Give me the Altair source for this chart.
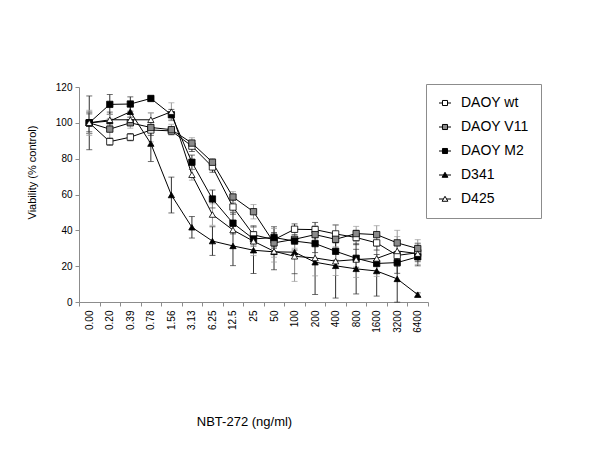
import altair as alt
import pandas as pd

concentrations = ["0.00", "0.20", "0.39", "0.78", "1.56", "3.13", "6.25", "12.5", "25",
                  "50", "100", "200", "400", "800", "1600", "3200", "6400"]
series_names = ["DAOY wt", "DAOY V11", "DAOY M2", "D341", "D425"]

daoy_wt = [100, 89.5, 92, 96, 95.5, 87, 75.4, 53, 37.5, 34.8, 40.6, 40.4, 38, 36, 33, 26, 27.5]
daoy_wt_err = [6, 2, 2, 3, 2, 3, 3, 4, 5, 4, 3, 4, 5, 4, 4, 6, 5]
daoy_v11 = [100, 96.5, 100, 97.4, 96.2, 88.7, 78, 58.6, 50.4, 33, 35, 37.6, 35, 38.2, 37.6, 33, 29.8]
daoy_v11_err = [6, 6, 3, 8, 3, 3, 2, 3, 4, 8, 5, 5, 8, 4, 5, 7, 5]
daoy_m2 = [100, 110.3, 110.5, 113.6, 104.5, 78, 57.5, 44, 35.2, 36, 34, 32.6, 28.3, 24.4, 21.5, 22, 25.2]
daoy_m2_err = [5, 5.5, 4, 1.5, 3, 4, 5, 6, 4, 6, 5, 5, 5, 5, 5, 6, 5]
d341 = [100, 101, 106.2, 88.4, 59.7, 41.7, 34, 31.3, 28.9, 28, 27.8, 22.2, 20.2, 18.5, 17.3, 12.9, 4.1]
d341_err = [15, 5, 3, 10, 10, 6, 8, 11, 13, 10, 12, 18, 18, 14, 14, 13, 1]
d425 = [100, 101.7, 101.7, 101.7, 106.2, 71, 48.8, 40.2, 33.9, 28.3, 25.5, 24.6, 22.8, 23.7, 24.3, 28.5, 27]
d425_err = [7, 3, 3, 4, 5, 3, 6, 10, 8, 6, 14, 10, 8, 10, 10, 8, 6]

values = [daoy_wt, daoy_v11, daoy_m2, d341, d425]
errors = [daoy_wt_err, daoy_v11_err, daoy_m2_err, d341_err, d425_err]

rows = []
for s, vals, errs in zip(series_names, values, errors):
    for i, (c, v, e) in enumerate(zip(concentrations, vals, errs)):
        rows.append({"conc": c, "idx": i, "series": s, "v": v, "err": e})
df = pd.DataFrame(rows)

FONT = "Liberation Sans"

x_enc = alt.X(
    "conc:N",
    sort=concentrations,
    bandPosition=0.5,
    scale=alt.Scale(type="band", paddingInner=0, paddingOuter=0),
    axis=alt.Axis(
        title="NBT-272 (ng/ml)",
        labelAngle=-90,
        labelFont=FONT,
        labelFontSize=10,
        labelColor="black",
        labelPadding=4,
        tickBand="extent",
        tickSize=4,
        tickColor="#8c8c8c",
        domainColor="#8c8c8c",
        titleFont=FONT,
        titleFontSize=13,
        titleFontWeight="normal",
        titleColor="black",
        titleX=165,
        titleY=119,
        titleAlign="center",
        titleBaseline="middle",
        grid=False,
    ),
)

y_scale = alt.Scale(domain=[0, 120], nice=False)
y_axis = alt.Axis(
    title="Viability (% control)",
    values=[0, 20, 40, 60, 80, 100, 120],
    labelFont=FONT,
    labelFontSize=10,
    labelColor="black",
    labelPadding=3,
    tickSize=4,
    tickColor="#8c8c8c",
    domainColor="#8c8c8c",
    titleFont=FONT,
    titleFontSize=11,
    titleFontWeight="normal",
    titleColor="black",
    titleAngle=-90,
    titleX=-47,
    titleY=85,
    titleAlign="center",
    titleBaseline="middle",
    grid=False,
)

base = alt.Chart(df).transform_calculate(
    lo="datum.v - datum.err",
    hi="datum.v + datum.err",
    ecol="(datum.series == 'DAOY V11' || datum.series == 'D425') ? '#9a9a9a' : '#303030'",
    shp="(datum.series == 'D341' || datum.series == 'D425') ? 'triangle-up' : 'square'",
    col="datum.series == 'DAOY wt' || datum.series == 'D425' ? 'white' : (datum.series == 'DAOY V11' ? '#8a8a8a' : 'black')",
)

rules = base.mark_rule(strokeWidth=1).encode(
    x=x_enc,
    y=alt.Y("lo:Q", scale=y_scale, axis=y_axis),
    y2="hi:Q",
    color=alt.Color("ecol:N", scale=None),
)
cap_lo = base.mark_tick(size=6, thickness=1, orient="horizontal").encode(
    x=x_enc, y=alt.Y("lo:Q", scale=y_scale, axis=y_axis), color=alt.Color("ecol:N", scale=None)
)
cap_hi = base.mark_tick(size=6, thickness=1, orient="horizontal").encode(
    x=x_enc, y=alt.Y("hi:Q", scale=y_scale, axis=y_axis), color=alt.Color("ecol:N", scale=None)
)
lines = base.mark_line(color="black", strokeWidth=1).encode(
    x=x_enc,
    y=alt.Y("v:Q", scale=y_scale, axis=y_axis),
    detail="series:N",
    order="idx:Q",
)
points = base.mark_point(filled=True, stroke="black", strokeWidth=0.8, opacity=1, size=40).encode(
    x=x_enc,
    y=alt.Y("v:Q", scale=y_scale, axis=y_axis),
    shape=alt.Shape("shp:N", scale=None),
    fill=alt.Fill("col:N", scale=None),
)

sq = "M-1,0H-0.42M0.42,0H1M-0.42,-0.42H0.42V0.42H-0.42Z"
tri = "M-1,0H-0.25M0.25,0H1M0,-0.45L0.48,0.38H-0.48Z"
legend_shapes = [sq, sq, sq, tri, tri]
legend_fills = ["white", "#8a8a8a", "black", "black", "white"]

leg = alt.Legend(
    title=None,
    orient="none",
    legendX=347,
    legendY=-3,
    strokeColor="#8c8c8c",
    fillColor="white",
    padding=12,
    rowPadding=10,
    symbolSize=144,
    symbolStrokeColor="black",
    symbolStrokeWidth=1,
    symbolOpacity=1,
    labelFont=FONT,
    labelFontSize=14,
    labelColor="black",
    labelOffset=9,
)

legend_layer = alt.Chart(df).transform_filter("false").mark_point(
    filled=True, stroke="black", strokeWidth=1
).encode(
    x=x_enc,
    y=alt.Y("v:Q", scale=y_scale, axis=y_axis),
    shape=alt.Shape("series:N", scale=alt.Scale(domain=series_names, range=legend_shapes), legend=leg),
    fill=alt.Fill("series:N", scale=alt.Scale(domain=series_names, range=legend_fills), legend=leg),
)

chart = alt.layer(rules, cap_lo, cap_hi, lines, points, legend_layer).properties(
    width=349,
    height=215,
    autosize=alt.AutoSizeParams(type="none"),
    padding={"left": 71, "top": 79, "right": 164, "bottom": 140},
    background="white",
).configure_view(stroke=None)

chart.save("out.html", embed_options={"renderer": "svg", "actions": False})
